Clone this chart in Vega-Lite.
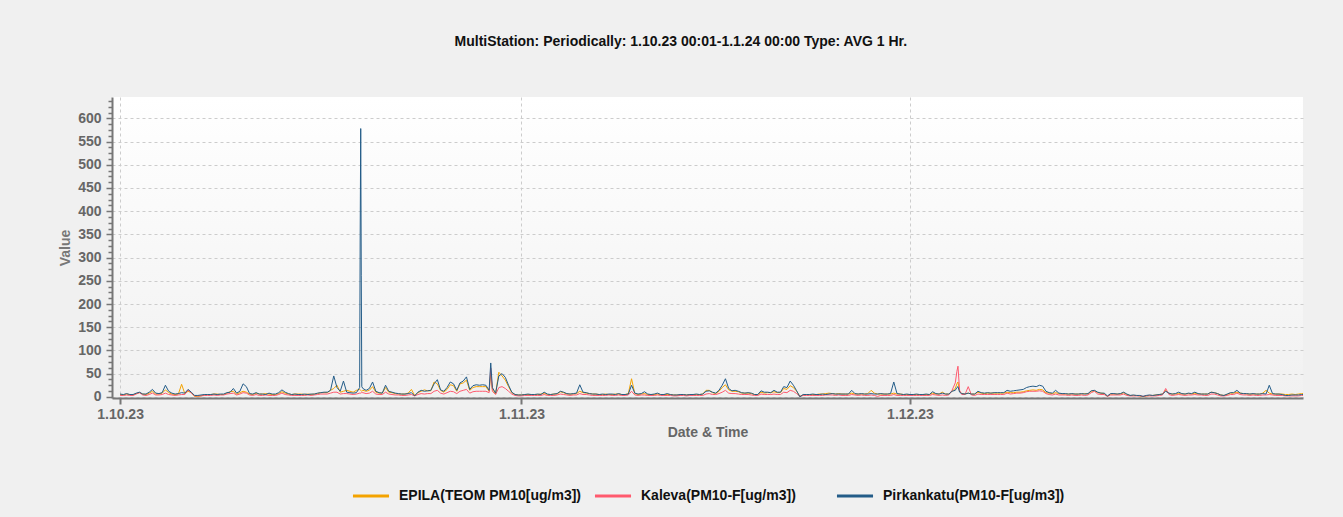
{
"$schema":"https://vega.github.io/schema/vega-lite/v6.json",
"width":1191,"height":301,
"autosize":{"type":"none"},
"padding":{"left":112,"top":97,"right":40,"bottom":119},
"background":"#f0f0f0",
"title":{"text":"MultiStation:  Periodically: 1.10.23 00:01-1.1.24 00:00  Type: AVG 1 Hr.","fontSize":14,"fontWeight":"bold","font":"Liberation Sans","color":"#111111","anchor":"middle","frame":"bounds","offset":45},
"view":{"fill":{"gradient":"linear","x1":0,"y1":0,"x2":0,"y2":1,"stops":[{"offset":0,"color":"#ffffff"},{"offset":1,"color":"#f1f1f1"}]},"stroke":null},
"config":{"legend":{"layout":{"anchor":"middle","bounds":"full","center":false,"bottom":{"anchor":"middle","bounds":"full"}}}},
"data":{"values":[
{"t":"2023-10-01T00:00","a":5,"b":3,"c":6},{"t":"2023-10-01T06:00","a":4,"b":3,"c":5},{"t":"2023-10-01T12:00","a":6,"b":4,"c":7},{"t":"2023-10-01T18:00","a":5,"b":3,"c":5},
{"t":"2023-10-02T00:00","a":4,"b":3,"c":5},{"t":"2023-10-02T06:00","a":7,"b":6,"c":8},{"t":"2023-10-02T12:00","a":9,"b":9,"c":10},{"t":"2023-10-02T18:00","a":6,"b":4,"c":6},
{"t":"2023-10-03T00:00","a":5,"b":3,"c":6},{"t":"2023-10-03T06:00","a":8,"b":5,"c":10},{"t":"2023-10-03T12:00","a":12,"b":8,"c":16},{"t":"2023-10-03T18:00","a":6,"b":4,"c":8},
{"t":"2023-10-04T00:00","a":6,"b":4,"c":7},{"t":"2023-10-04T06:00","a":8,"b":5,"c":9},{"t":"2023-10-04T12:00","a":15,"b":8,"c":25},{"t":"2023-10-04T18:00","a":9,"b":5,"c":12},
{"t":"2023-10-05T00:00","a":6,"b":4,"c":8},{"t":"2023-10-05T06:00","a":5,"b":3,"c":6},{"t":"2023-10-05T12:00","a":6,"b":4,"c":7},{"t":"2023-10-05T18:00","a":27,"b":5,"c":9},
{"t":"2023-10-06T00:00","a":7,"b":5,"c":8},{"t":"2023-10-06T06:00","a":12,"b":15,"c":16},{"t":"2023-10-06T12:00","a":9,"b":8,"c":10},{"t":"2023-10-06T18:00","a":1,"b":2,"c":3},
{"t":"2023-10-07T00:00","a":1,"b":2,"c":3},{"t":"2023-10-07T06:00","a":2,"b":2,"c":4},{"t":"2023-10-07T12:00","a":4,"b":3,"c":5},{"t":"2023-10-07T18:00","a":5,"b":3,"c":5},
{"t":"2023-10-08T00:00","a":5,"b":3,"c":5},{"t":"2023-10-08T06:00","a":6,"b":4,"c":6},{"t":"2023-10-08T12:00","a":6,"b":3,"c":5},{"t":"2023-10-08T18:00","a":5,"b":4,"c":6},
{"t":"2023-10-09T00:00","a":5,"b":4,"c":6},{"t":"2023-10-09T06:00","a":8,"b":6,"c":9},{"t":"2023-10-09T12:00","a":11,"b":7,"c":10},{"t":"2023-10-09T18:00","a":12,"b":8,"c":18},
{"t":"2023-10-10T00:00","a":6,"b":4,"c":8},{"t":"2023-10-10T06:00","a":9,"b":6,"c":12},{"t":"2023-10-10T12:00","a":12,"b":9,"c":28},{"t":"2023-10-10T18:00","a":10,"b":8,"c":22},
{"t":"2023-10-11T00:00","a":6,"b":4,"c":7},{"t":"2023-10-11T06:00","a":5,"b":3,"c":6},{"t":"2023-10-11T12:00","a":8,"b":5,"c":9},{"t":"2023-10-11T18:00","a":6,"b":3,"c":6},
{"t":"2023-10-12T00:00","a":6,"b":3,"c":6},{"t":"2023-10-12T06:00","a":7,"b":4,"c":5},{"t":"2023-10-12T12:00","a":6,"b":3,"c":8},{"t":"2023-10-12T18:00","a":5,"b":3,"c":6},
{"t":"2023-10-13T00:00","a":5,"b":3,"c":6},{"t":"2023-10-13T06:00","a":7,"b":5,"c":9},{"t":"2023-10-13T12:00","a":11,"b":8,"c":15},{"t":"2023-10-13T18:00","a":8,"b":5,"c":10},
{"t":"2023-10-14T00:00","a":6,"b":4,"c":7},{"t":"2023-10-14T06:00","a":5,"b":3,"c":5},{"t":"2023-10-14T12:00","a":6,"b":3,"c":6},{"t":"2023-10-14T18:00","a":6,"b":3,"c":5},
{"t":"2023-10-15T00:00","a":6,"b":3,"c":5},{"t":"2023-10-15T06:00","a":5,"b":3,"c":6},{"t":"2023-10-15T12:00","a":6,"b":4,"c":5},{"t":"2023-10-15T18:00","a":5,"b":3,"c":6},
{"t":"2023-10-16T00:00","a":6,"b":4,"c":6},{"t":"2023-10-16T06:00","a":7,"b":5,"c":8},{"t":"2023-10-16T12:00","a":9,"b":6,"c":9},{"t":"2023-10-16T18:00","a":9,"b":6,"c":10},
{"t":"2023-10-17T00:00","a":9,"b":6,"c":10},{"t":"2023-10-17T06:00","a":14,"b":8,"c":14},{"t":"2023-10-17T12:00","a":18,"b":10,"c":45},{"t":"2023-10-17T18:00","a":25,"b":10,"c":20},
{"t":"2023-10-18T00:00","a":10,"b":6,"c":12},{"t":"2023-10-18T06:00","a":12,"b":7,"c":34},{"t":"2023-10-18T12:00","a":14,"b":7,"c":10},{"t":"2023-10-18T18:00","a":12,"b":6,"c":9},
{"t":"2023-10-19T00:00","a":10,"b":5,"c":8},{"t":"2023-10-19T06:00","a":14,"b":6,"c":9},{"t":"2023-10-19T12:00","a":16,"b":8,"c":20},{"t":"2023-10-19T13:00","a":15,"b":8,"c":350},{"t":"2023-10-19T14:00","a":14,"b":8,"c":578},{"t":"2023-10-19T15:00","a":13,"b":9,"c":262},{"t":"2023-10-19T16:00","a":12,"b":9,"c":22},{"t":"2023-10-19T18:00","a":14,"b":9,"c":18},
{"t":"2023-10-20T00:00","a":12,"b":7,"c":14},{"t":"2023-10-20T06:00","a":14,"b":8,"c":18},{"t":"2023-10-20T12:00","a":22,"b":12,"c":32},{"t":"2023-10-20T18:00","a":10,"b":6,"c":12},
{"t":"2023-10-21T00:00","a":8,"b":5,"c":9},{"t":"2023-10-21T06:00","a":8,"b":5,"c":8},{"t":"2023-10-21T12:00","a":20,"b":10,"c":25},{"t":"2023-10-21T18:00","a":10,"b":6,"c":12},
{"t":"2023-10-22T00:00","a":9,"b":5,"c":10},{"t":"2023-10-22T06:00","a":7,"b":4,"c":8},{"t":"2023-10-22T12:00","a":6,"b":4,"c":7},{"t":"2023-10-22T18:00","a":6,"b":3,"c":6},
{"t":"2023-10-23T00:00","a":6,"b":3,"c":6},{"t":"2023-10-23T06:00","a":8,"b":4,"c":7},{"t":"2023-10-23T12:00","a":16,"b":5,"c":9},{"t":"2023-10-23T18:00","a":3,"b":2,"c":2},
{"t":"2023-10-24T00:00","a":9,"b":5,"c":10},{"t":"2023-10-24T06:00","a":12,"b":7,"c":14},{"t":"2023-10-24T12:00","a":15,"b":6,"c":12},{"t":"2023-10-24T18:00","a":13,"b":7,"c":13},
{"t":"2023-10-25T00:00","a":13,"b":7,"c":14},{"t":"2023-10-25T06:00","a":32,"b":12,"c":28},{"t":"2023-10-25T12:00","a":28,"b":14,"c":37},{"t":"2023-10-25T18:00","a":14,"b":8,"c":15},
{"t":"2023-10-26T00:00","a":10,"b":6,"c":12},{"t":"2023-10-26T06:00","a":16,"b":9,"c":20},{"t":"2023-10-26T12:00","a":26,"b":12,"c":32},{"t":"2023-10-26T18:00","a":24,"b":11,"c":28},
{"t":"2023-10-27T00:00","a":12,"b":7,"c":14},{"t":"2023-10-27T06:00","a":28,"b":12,"c":30},{"t":"2023-10-27T12:00","a":30,"b":14,"c":34},{"t":"2023-10-27T18:00","a":36,"b":16,"c":43},
{"t":"2023-10-28T00:00","a":14,"b":8,"c":16},{"t":"2023-10-28T06:00","a":20,"b":11,"c":24},{"t":"2023-10-28T12:00","a":22,"b":12,"c":26},{"t":"2023-10-28T18:00","a":22,"b":12,"c":25},
{"t":"2023-10-29T00:00","a":22,"b":12,"c":26},{"t":"2023-10-29T06:00","a":22,"b":12,"c":25},{"t":"2023-10-29T12:00","a":12,"b":9,"c":14},{"t":"2023-10-29T15:00","a":50,"b":62,"c":73},{"t":"2023-10-29T18:00","a":16,"b":12,"c":20},
{"t":"2023-10-30T00:00","a":7,"b":5,"c":8},{"t":"2023-10-30T06:00","a":53,"b":20,"c":45},{"t":"2023-10-30T12:00","a":45,"b":22,"c":50},{"t":"2023-10-30T18:00","a":36,"b":18,"c":42},
{"t":"2023-10-31T00:00","a":22,"b":12,"c":25},{"t":"2023-10-31T06:00","a":9,"b":6,"c":10},{"t":"2023-10-31T12:00","a":5,"b":3,"c":5},{"t":"2023-10-31T18:00","a":4,"b":2,"c":4},
{"t":"2023-11-01T00:00","a":4,"b":2,"c":4},{"t":"2023-11-01T06:00","a":5,"b":3,"c":5},{"t":"2023-11-01T12:00","a":5,"b":3,"c":6},{"t":"2023-11-01T18:00","a":5,"b":3,"c":5},
{"t":"2023-11-02T00:00","a":5,"b":3,"c":5},{"t":"2023-11-02T06:00","a":5,"b":3,"c":6},{"t":"2023-11-02T12:00","a":6,"b":3,"c":5},{"t":"2023-11-02T18:00","a":8,"b":5,"c":10},
{"t":"2023-11-03T00:00","a":5,"b":3,"c":6},{"t":"2023-11-03T06:00","a":5,"b":3,"c":5},{"t":"2023-11-03T12:00","a":6,"b":3,"c":6},{"t":"2023-11-03T18:00","a":6,"b":4,"c":7},
{"t":"2023-11-04T00:00","a":11,"b":6,"c":12},{"t":"2023-11-04T06:00","a":9,"b":5,"c":10},{"t":"2023-11-04T12:00","a":6,"b":4,"c":7},{"t":"2023-11-04T18:00","a":6,"b":3,"c":6},
{"t":"2023-11-05T00:00","a":6,"b":4,"c":7},{"t":"2023-11-05T06:00","a":7,"b":4,"c":8},{"t":"2023-11-05T12:00","a":12,"b":7,"c":26},{"t":"2023-11-05T18:00","a":9,"b":5,"c":10},
{"t":"2023-11-06T00:00","a":8,"b":5,"c":9},{"t":"2023-11-06T06:00","a":7,"b":4,"c":7},{"t":"2023-11-06T12:00","a":6,"b":3,"c":6},{"t":"2023-11-06T18:00","a":6,"b":3,"c":6},
{"t":"2023-11-07T00:00","a":5,"b":3,"c":5},{"t":"2023-11-07T06:00","a":5,"b":3,"c":6},{"t":"2023-11-07T12:00","a":6,"b":3,"c":5},{"t":"2023-11-07T18:00","a":5,"b":4,"c":6},
{"t":"2023-11-08T00:00","a":5,"b":3,"c":6},{"t":"2023-11-08T06:00","a":6,"b":3,"c":5},{"t":"2023-11-08T12:00","a":6,"b":4,"c":7},{"t":"2023-11-08T18:00","a":5,"b":3,"c":5},
{"t":"2023-11-09T00:00","a":5,"b":3,"c":5},{"t":"2023-11-09T06:00","a":7,"b":4,"c":6},{"t":"2023-11-09T12:00","a":39,"b":12,"c":25},{"t":"2023-11-09T18:00","a":7,"b":4,"c":8},
{"t":"2023-11-10T00:00","a":5,"b":3,"c":6},{"t":"2023-11-10T06:00","a":6,"b":4,"c":7},{"t":"2023-11-10T12:00","a":7,"b":4,"c":11},{"t":"2023-11-10T18:00","a":5,"b":3,"c":6},
{"t":"2023-11-11T00:00","a":5,"b":3,"c":5},{"t":"2023-11-11T06:00","a":5,"b":3,"c":6},{"t":"2023-11-11T12:00","a":6,"b":4,"c":8},{"t":"2023-11-11T18:00","a":5,"b":3,"c":5},
{"t":"2023-11-12T00:00","a":5,"b":3,"c":5},{"t":"2023-11-12T06:00","a":5,"b":3,"c":7},{"t":"2023-11-12T12:00","a":5,"b":3,"c":5},{"t":"2023-11-12T18:00","a":4,"b":2,"c":4},
{"t":"2023-11-13T00:00","a":4,"b":2,"c":4},{"t":"2023-11-13T06:00","a":4,"b":3,"c":5},{"t":"2023-11-13T12:00","a":5,"b":3,"c":5},{"t":"2023-11-13T18:00","a":4,"b":2,"c":4},
{"t":"2023-11-14T00:00","a":5,"b":3,"c":5},{"t":"2023-11-14T06:00","a":5,"b":3,"c":5},{"t":"2023-11-14T12:00","a":5,"b":3,"c":6},{"t":"2023-11-14T18:00","a":5,"b":3,"c":5},
{"t":"2023-11-15T00:00","a":6,"b":3,"c":6},{"t":"2023-11-15T06:00","a":14,"b":6,"c":12},{"t":"2023-11-15T12:00","a":14,"b":7,"c":13},{"t":"2023-11-15T18:00","a":9,"b":5,"c":10},
{"t":"2023-11-16T00:00","a":7,"b":5,"c":8},{"t":"2023-11-16T06:00","a":12,"b":7,"c":14},{"t":"2023-11-16T12:00","a":20,"b":10,"c":25},{"t":"2023-11-16T18:00","a":26,"b":14,"c":39},
{"t":"2023-11-17T00:00","a":15,"b":8,"c":18},{"t":"2023-11-17T06:00","a":12,"b":7,"c":13},{"t":"2023-11-17T12:00","a":12,"b":7,"c":14},{"t":"2023-11-17T18:00","a":11,"b":6,"c":12},
{"t":"2023-11-18T00:00","a":8,"b":5,"c":9},{"t":"2023-11-18T06:00","a":8,"b":5,"c":8},{"t":"2023-11-18T12:00","a":8,"b":5,"c":9},{"t":"2023-11-18T18:00","a":7,"b":4,"c":8},
{"t":"2023-11-19T00:00","a":5,"b":3,"c":5},{"t":"2023-11-19T06:00","a":5,"b":3,"c":5},{"t":"2023-11-19T12:00","a":10,"b":6,"c":13},{"t":"2023-11-19T18:00","a":8,"b":5,"c":10},
{"t":"2023-11-20T00:00","a":9,"b":5,"c":10},{"t":"2023-11-20T06:00","a":9,"b":5,"c":9},{"t":"2023-11-20T12:00","a":11,"b":6,"c":14},{"t":"2023-11-20T18:00","a":9,"b":5,"c":10},
{"t":"2023-11-21T00:00","a":9,"b":5,"c":10},{"t":"2023-11-21T06:00","a":18,"b":10,"c":22},{"t":"2023-11-21T12:00","a":16,"b":9,"c":20},{"t":"2023-11-21T18:00","a":24,"b":14,"c":34},
{"t":"2023-11-22T00:00","a":20,"b":12,"c":25},{"t":"2023-11-22T06:00","a":12,"b":7,"c":13},{"t":"2023-11-22T12:00","a":1,"b":1,"c":0},{"t":"2023-11-22T18:00","a":4,"b":3,"c":5},
{"t":"2023-11-23T00:00","a":5,"b":3,"c":5},{"t":"2023-11-23T06:00","a":5,"b":3,"c":5},{"t":"2023-11-23T12:00","a":5,"b":3,"c":6},{"t":"2023-11-23T18:00","a":5,"b":3,"c":5},
{"t":"2023-11-24T00:00","a":6,"b":3,"c":5},{"t":"2023-11-24T06:00","a":6,"b":3,"c":6},{"t":"2023-11-24T12:00","a":7,"b":4,"c":5},{"t":"2023-11-24T18:00","a":8,"b":4,"c":6},
{"t":"2023-11-25T00:00","a":7,"b":4,"c":7},{"t":"2023-11-25T06:00","a":6,"b":3,"c":6},{"t":"2023-11-25T12:00","a":7,"b":4,"c":6},{"t":"2023-11-25T18:00","a":6,"b":3,"c":6},
{"t":"2023-11-26T00:00","a":6,"b":3,"c":6},{"t":"2023-11-26T06:00","a":6,"b":3,"c":6},{"t":"2023-11-26T12:00","a":8,"b":5,"c":14},{"t":"2023-11-26T18:00","a":6,"b":4,"c":7},
{"t":"2023-11-27T00:00","a":6,"b":3,"c":6},{"t":"2023-11-27T06:00","a":6,"b":4,"c":7},{"t":"2023-11-27T12:00","a":6,"b":3,"c":6},{"t":"2023-11-27T18:00","a":7,"b":3,"c":6},
{"t":"2023-11-28T00:00","a":14,"b":4,"c":7},{"t":"2023-11-28T06:00","a":8,"b":3,"c":6},{"t":"2023-11-28T12:00","a":6,"b":1,"c":6},{"t":"2023-11-28T18:00","a":6,"b":3,"c":7},
{"t":"2023-11-29T00:00","a":6,"b":3,"c":6},{"t":"2023-11-29T06:00","a":6,"b":3,"c":6},{"t":"2023-11-29T12:00","a":6,"b":3,"c":7},{"t":"2023-11-29T18:00","a":8,"b":5,"c":32},
{"t":"2023-11-30T00:00","a":6,"b":3,"c":7},{"t":"2023-11-30T06:00","a":6,"b":3,"c":6},{"t":"2023-11-30T12:00","a":5,"b":3,"c":5},{"t":"2023-11-30T18:00","a":5,"b":3,"c":6},
{"t":"2023-12-01T00:00","a":5,"b":3,"c":5},{"t":"2023-12-01T06:00","a":5,"b":3,"c":5},{"t":"2023-12-01T12:00","a":5,"b":3,"c":6},{"t":"2023-12-01T18:00","a":5,"b":3,"c":5},
{"t":"2023-12-02T00:00","a":5,"b":3,"c":5},{"t":"2023-12-02T06:00","a":5,"b":3,"c":6},{"t":"2023-12-02T12:00","a":5,"b":3,"c":5},{"t":"2023-12-02T18:00","a":8,"b":5,"c":11},
{"t":"2023-12-03T00:00","a":6,"b":4,"c":7},{"t":"2023-12-03T06:00","a":6,"b":3,"c":6},{"t":"2023-12-03T12:00","a":10,"b":4,"c":8},{"t":"2023-12-03T18:00","a":6,"b":3,"c":6},
{"t":"2023-12-04T00:00","a":6,"b":4,"c":6},{"t":"2023-12-04T06:00","a":12,"b":14,"c":12},{"t":"2023-12-04T12:00","a":18,"b":30,"c":14},{"t":"2023-12-04T15:00","a":28,"b":55,"c":20},{"t":"2023-12-04T17:00","a":32,"b":66,"c":22},{"t":"2023-12-04T20:00","a":12,"b":14,"c":10},
{"t":"2023-12-05T00:00","a":7,"b":5,"c":7},{"t":"2023-12-05T06:00","a":6,"b":5,"c":6},{"t":"2023-12-05T12:00","a":8,"b":22,"c":8},{"t":"2023-12-05T18:00","a":6,"b":4,"c":6},
{"t":"2023-12-06T00:00","a":6,"b":3,"c":6},{"t":"2023-12-06T06:00","a":10,"b":6,"c":12},{"t":"2023-12-06T12:00","a":8,"b":5,"c":9},{"t":"2023-12-06T18:00","a":7,"b":5,"c":8},
{"t":"2023-12-07T00:00","a":8,"b":5,"c":9},{"t":"2023-12-07T06:00","a":8,"b":5,"c":8},{"t":"2023-12-07T12:00","a":8,"b":5,"c":9},{"t":"2023-12-07T18:00","a":8,"b":5,"c":9},
{"t":"2023-12-08T00:00","a":8,"b":5,"c":9},{"t":"2023-12-08T06:00","a":8,"b":5,"c":9},{"t":"2023-12-08T12:00","a":10,"b":8,"c":14},{"t":"2023-12-08T18:00","a":9,"b":6,"c":12},
{"t":"2023-12-09T00:00","a":9,"b":7,"c":13},{"t":"2023-12-09T06:00","a":10,"b":8,"c":14},{"t":"2023-12-09T12:00","a":10,"b":8,"c":15},{"t":"2023-12-09T18:00","a":11,"b":9,"c":16},
{"t":"2023-12-10T00:00","a":13,"b":11,"c":20},{"t":"2023-12-10T06:00","a":14,"b":12,"c":22},{"t":"2023-12-10T12:00","a":15,"b":12,"c":23},{"t":"2023-12-10T18:00","a":14,"b":12,"c":22},
{"t":"2023-12-11T00:00","a":16,"b":13,"c":25},{"t":"2023-12-11T06:00","a":15,"b":12,"c":23},{"t":"2023-12-11T12:00","a":9,"b":7,"c":12},{"t":"2023-12-11T18:00","a":8,"b":5,"c":9},
{"t":"2023-12-12T00:00","a":7,"b":4,"c":8},{"t":"2023-12-12T06:00","a":9,"b":6,"c":14},{"t":"2023-12-12T12:00","a":7,"b":4,"c":8},{"t":"2023-12-12T18:00","a":6,"b":4,"c":7},
{"t":"2023-12-13T00:00","a":6,"b":4,"c":7},{"t":"2023-12-13T06:00","a":6,"b":3,"c":6},{"t":"2023-12-13T12:00","a":6,"b":4,"c":7},{"t":"2023-12-13T18:00","a":6,"b":3,"c":6},
{"t":"2023-12-14T00:00","a":6,"b":3,"c":6},{"t":"2023-12-14T06:00","a":6,"b":4,"c":7},{"t":"2023-12-14T12:00","a":7,"b":3,"c":6},{"t":"2023-12-14T18:00","a":6,"b":4,"c":7},
{"t":"2023-12-15T00:00","a":12,"b":9,"c":13},{"t":"2023-12-15T06:00","a":13,"b":12,"c":14},{"t":"2023-12-15T12:00","a":9,"b":6,"c":10},{"t":"2023-12-15T18:00","a":8,"b":5,"c":8},
{"t":"2023-12-16T00:00","a":7,"b":5,"c":8},{"t":"2023-12-16T06:00","a":1,"b":1,"c":2},{"t":"2023-12-16T12:00","a":6,"b":4,"c":7},{"t":"2023-12-16T18:00","a":6,"b":4,"c":7},
{"t":"2023-12-17T00:00","a":6,"b":4,"c":6},{"t":"2023-12-17T06:00","a":6,"b":4,"c":7},{"t":"2023-12-17T12:00","a":9,"b":6,"c":10},{"t":"2023-12-17T18:00","a":5,"b":3,"c":6},
{"t":"2023-12-18T00:00","a":3,"b":2,"c":3},{"t":"2023-12-18T06:00","a":3,"b":2,"c":4},{"t":"2023-12-18T12:00","a":3,"b":2,"c":3},{"t":"2023-12-18T18:00","a":2,"b":2,"c":3},
{"t":"2023-12-19T00:00","a":0,"b":1,"c":1},{"t":"2023-12-19T06:00","a":2,"b":2,"c":3},{"t":"2023-12-19T12:00","a":3,"b":2,"c":4},{"t":"2023-12-19T18:00","a":3,"b":2,"c":3},
{"t":"2023-12-20T00:00","a":4,"b":2,"c":4},{"t":"2023-12-20T06:00","a":5,"b":3,"c":5},{"t":"2023-12-20T12:00","a":6,"b":4,"c":6},{"t":"2023-12-20T18:00","a":14,"b":18,"c":12},
{"t":"2023-12-21T00:00","a":7,"b":5,"c":8},{"t":"2023-12-21T06:00","a":6,"b":3,"c":6},{"t":"2023-12-21T12:00","a":6,"b":4,"c":7},{"t":"2023-12-21T18:00","a":7,"b":5,"c":10},
{"t":"2023-12-22T00:00","a":6,"b":4,"c":7},{"t":"2023-12-22T06:00","a":6,"b":3,"c":6},{"t":"2023-12-22T12:00","a":7,"b":4,"c":8},{"t":"2023-12-22T18:00","a":6,"b":4,"c":7},
{"t":"2023-12-23T00:00","a":8,"b":5,"c":10},{"t":"2023-12-23T06:00","a":6,"b":4,"c":7},{"t":"2023-12-23T12:00","a":6,"b":4,"c":6},{"t":"2023-12-23T18:00","a":6,"b":3,"c":6},
{"t":"2023-12-24T00:00","a":6,"b":3,"c":6},{"t":"2023-12-24T06:00","a":10,"b":6,"c":10},{"t":"2023-12-24T12:00","a":9,"b":6,"c":9},{"t":"2023-12-24T18:00","a":7,"b":4,"c":7},
{"t":"2023-12-25T00:00","a":4,"b":2,"c":4},{"t":"2023-12-25T06:00","a":3,"b":2,"c":3},{"t":"2023-12-25T12:00","a":5,"b":3,"c":6},{"t":"2023-12-25T18:00","a":8,"b":5,"c":9},
{"t":"2023-12-26T00:00","a":8,"b":5,"c":9},{"t":"2023-12-26T06:00","a":10,"b":8,"c":14},{"t":"2023-12-26T12:00","a":8,"b":5,"c":8},{"t":"2023-12-26T18:00","a":7,"b":4,"c":7},
{"t":"2023-12-27T00:00","a":6,"b":4,"c":7},{"t":"2023-12-27T06:00","a":6,"b":3,"c":6},{"t":"2023-12-27T12:00","a":6,"b":4,"c":7},{"t":"2023-12-27T18:00","a":6,"b":3,"c":6},
{"t":"2023-12-28T00:00","a":6,"b":3,"c":6},{"t":"2023-12-28T06:00","a":8,"b":4,"c":7},{"t":"2023-12-28T12:00","a":14,"b":4,"c":6},{"t":"2023-12-28T18:00","a":8,"b":5,"c":25},
{"t":"2023-12-29T00:00","a":6,"b":4,"c":7},{"t":"2023-12-29T06:00","a":6,"b":3,"c":6},{"t":"2023-12-29T12:00","a":6,"b":3,"c":6},{"t":"2023-12-29T18:00","a":6,"b":3,"c":5},
{"t":"2023-12-30T00:00","a":5,"b":2,"c":3},{"t":"2023-12-30T06:00","a":5,"b":2,"c":3},{"t":"2023-12-30T12:00","a":6,"b":2,"c":4},{"t":"2023-12-30T18:00","a":5,"b":2,"c":4},
{"t":"2023-12-31T00:00","a":6,"b":2,"c":4},{"t":"2023-12-31T06:00","a":7,"b":3,"c":5},{"t":"2023-12-31T12:00","a":7,"b":3,"c":5}
]},
"transform":[{"fold":["a","b","c"],"as":["s","v"]}],
"mark":{"type":"line","strokeWidth":1,"clip":true},
"encoding":{
"x":{"field":"t","type":"temporal","title":"Date & Time",
"scale":{"domain":[{"year":2023,"month":9,"date":30,"hours":9},{"year":2023,"month":12,"date":31,"hours":8,"minutes":30}]},
"axis":{"values":[{"year":2023,"month":10,"date":1},{"year":2023,"month":11,"date":1},{"year":2023,"month":12,"date":1}],
"format":"%-d.%-m.%y","labelFont":"Liberation Sans","labelFontSize":14,"labelFontWeight":"bold","labelColor":"#666666","labelPadding":3,"labelFlush":false,
"tickSize":6,"tickWidth":2,"tickColor":"#777777","domainColor":"#777777","domainWidth":2,
"grid":true,"gridColor":"#cccccc","gridDash":[3,3],"gridWidth":1,
"titleFont":"Liberation Sans","titleFontSize":14,"titleFontWeight":"bold","titleColor":"#666666","titlePadding":4}},
"y":{"field":"v","type":"quantitative","title":"Value",
"scale":{"domain":[-2.5,646],"nice":false,"zero":false},
"axis":{"values":[0,12.5,25,37.5,50,62.5,75,87.5,100,112.5,125,137.5,150,162.5,175,187.5,200,212.5,225,237.5,250,262.5,275,287.5,300,312.5,325,337.5,350,362.5,375,387.5,400,412.5,425,437.5,450,462.5,475,487.5,500,512.5,525,537.5,550,562.5,575,587.5,600,612.5,625,637.5],
"labelExpr":"datum.value % 50 === 0 ? format(datum.value, 'd') : ''","labelOverlap":false,
"labelFont":"Liberation Sans","labelFontSize":14,"labelFontWeight":"bold","labelColor":"#666666","labelPadding":5,
"tickSize":{"condition":{"test":"datum.value % 50 === 0","value":6},"value":4},"tickWidth":1.5,"tickColor":"#777777","domainColor":"#777777","domainWidth":2,
"grid":true,"gridColor":"#cccccc","gridDash":[3,3],"gridWidth":1,"gridOpacity":{"condition":{"test":"datum.value % 50 === 0","value":1},"value":0},
"titleFont":"Liberation Sans","titleFontSize":14,"titleFontWeight":"bold","titleColor":"#777777","titlePadding":5}},
"color":{"field":"s","type":"nominal","scale":{"domain":["a","b","c"],"range":["#F4A300","#FF5A6E","#235C88"]},
"legend":{"orient":"bottom","direction":"horizontal","title":null,"columns":3,"gridAlign":"all","columnPadding":6,"offset":37,
"symbolType":"stroke","symbolStrokeWidth":3,"symbolSize":1300,"labelOffset":8,"labelLimit":400,
"labelFont":"Liberation Sans","labelFontSize":14,"labelFontWeight":"bold","labelColor":"#111111",
"labelExpr":"datum.label === 'a' ? 'EPILA(TEOM PM10[ug/m3])' : datum.label === 'b' ? 'Kaleva(PM10-F[ug/m3])' : 'Pirkankatu(PM10-F[ug/m3])'"}}
}
}
